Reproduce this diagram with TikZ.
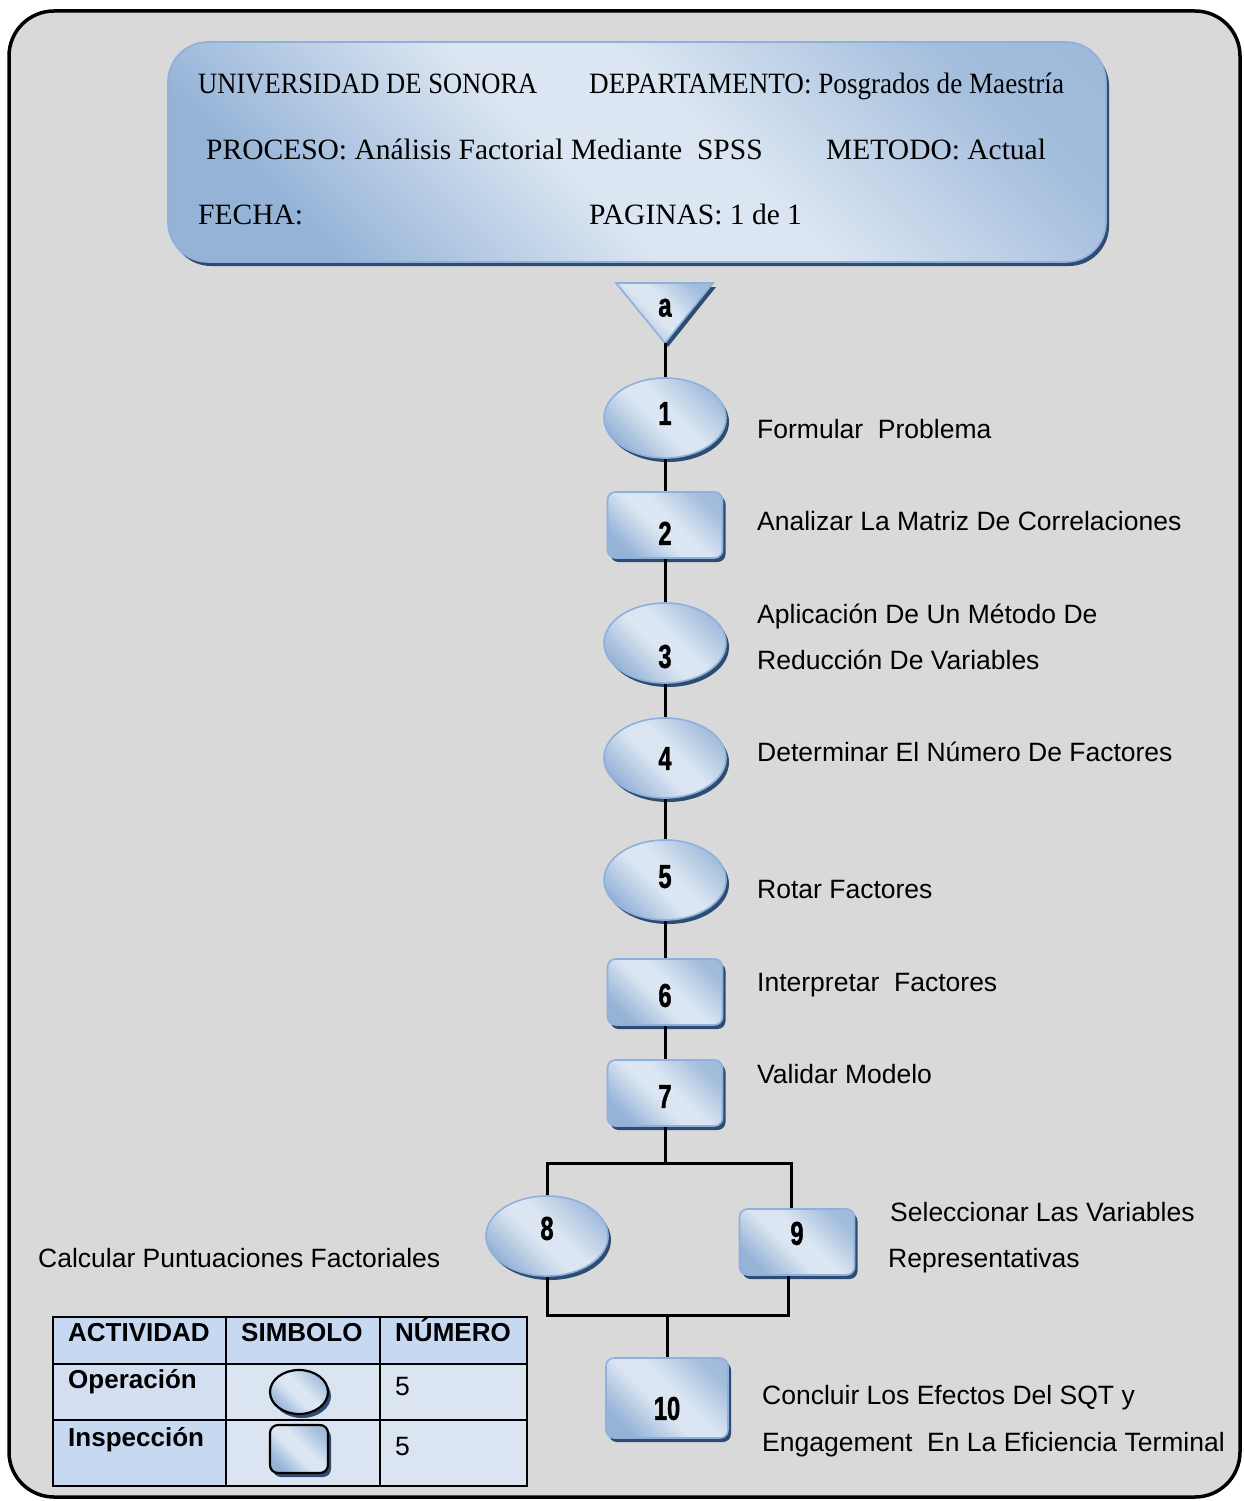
\documentclass[tikz,border=0pt]{standalone}
\usepackage{fontspec}
\usepackage{graphicx}
\setmainfont{Liberation Serif}
\newfontfamily\labfont{Liberation Sans}
\newfontfamily\numfont{Liberation Sans}[UprightFeatures={FakeBold=1.5}, BoldFeatures={FakeBold=1.5}]
\usetikzlibrary{shapes.geometric,shadows}

\definecolor{pagebg}{HTML}{D9D9D9}
\definecolor{boxlight}{HTML}{DCE6F2}
\definecolor{boxdark}{HTML}{95B3D7}
\definecolor{boxedge}{HTML}{8DB0DC}
\definecolor{shadeblue}{HTML}{2E4B72}
\definecolor{tabhead}{HTML}{C6D9F1}
\definecolor{tabmid}{HTML}{D3DFF0}
\definecolor{tabcell}{HTML}{DBE5F1}

\pgfdeclarehorizontalshading{glass}{100bp}{color(0bp)=(boxdark); color(25bp)=(boxdark); color(45bp)=(boxlight); color(55bp)=(boxlight); color(75bp)=(boxdark!80!boxlight); color(100bp)=(boxdark)}

% bold condensed digits inside the flow symbols; #1 = baseline raise
\newcommand\stepnum[2]{\raisebox{#1pt}[0pt][0pt]{\numfont\bfseries\fontsize{33}{33}\selectfont\scalebox{0.72}[1]{#2}}}
% horizontally squeezed header text
\newcommand\hx[2]{\scalebox{#1}[1]{#2}}

\tikzset{
  glassy/.style={shading=glass, shading angle=45, draw=boxedge, line width=1.6pt,
    drop shadow={shadow xshift=3pt, shadow yshift=-4pt, fill=shadeblue, opacity=1}},
  opnode/.style={glassy, ellipse, minimum width=122pt, minimum height=80pt, inner sep=0pt},
  insnode/.style={glassy, rectangle, rounded corners=8pt, minimum width=115pt, minimum height=66pt, inner sep=0pt},
  link/.style={line width=3pt, black},
  headtxt/.style={anchor=base west, inner sep=0pt, font=\fontsize{29.5}{32}\selectfont},
  labtxt/.style={anchor=base west, inner sep=0pt, font=\labfont\fontsize{26.5}{30}\selectfont},
  tabbold/.style={anchor=base west, inner sep=0pt, font=\labfont\bfseries\fontsize{26}{30}\selectfont},
  symb/.style={draw=black, line width=2.2pt, shading=glass, shading angle=45,
    drop shadow={shadow xshift=3pt, shadow yshift=-4pt, fill=shadeblue, opacity=1}},
}

\begin{document}
\begin{tikzpicture}[x=1pt,y=-1pt]
\useasboundingbox (0,0) rectangle (1244,1501);

% page frame
\draw[line width=3.5pt, fill=pagebg, rounded corners=45pt] (9,11) rectangle (1240,1497);

% title block
\node[glassy, rectangle, rounded corners=40pt, minimum width=938pt, minimum height=220pt, inner sep=0pt] (head) at (637,152) {};
\node[headtxt] (h1) at (198,94) {\hx{0.9}{UNIVERSIDAD DE SONORA}};
\node[headtxt] (h2) at (589,94) {\hx{0.92}{DEPARTAMENTO: Posgrados de Maestría}};
\node[headtxt] (h3) at (206,159) {PROCESO: Análisis Factorial Mediante\ \ SPSS};
\node[headtxt] (h4) at (826,159) {METODO: Actual};
\node[headtxt] (h5) at (198,224) {FECHA:};
\node[headtxt] (h6) at (589,224) {PAGINAS: 1 de 1};

% start connector (triangle)
\coordinate (tapex) at (665,343);
\path[glassy] (616,283) -- (713,283) -- (tapex) -- cycle;
\node[inner sep=0pt] (ta) at (665,308) {\stepnum{-8.5}{a}};

% flow steps
\node[opnode]  (n1) at (665,418) {\stepnum{-6.8}{1}};
\node[insnode] (n2) at (665,525) {\stepnum{-19.8}{2}};
\node[opnode]  (n3) at (665,643) {\stepnum{-24.8}{3}};
\node[opnode]  (n4) at (665,758) {\stepnum{-11.8}{4}};
\node[opnode]  (n5) at (665,880) {\stepnum{-7.8}{5}};
\node[insnode] (n6) at (665,992) {\stepnum{-14.8}{6}};
\node[insnode] (n7) at (665,1093) {\stepnum{-14.8}{7}};
\node[opnode]  (n8) at (547,1236) {\stepnum{-3.8}{8}};
\node[insnode] (n9) at (797,1242) {\stepnum{-2.8}{9}};
\node[insnode, minimum width=122pt, minimum height=80pt] (n10) at (667,1398) {\stepnum{-21.8}{10}};

\coordinate (jt) at (665,1163);
\coordinate (jb) at (667,1315);

% connectors
\draw[link] (tapex) -- (n1.north);
\draw[link] (n1.south) -- (n2.north);
\draw[link] (n2.south) -- (n3.north);
\draw[link] (n3.south) -- (n4.north);
\draw[link] (n4.south) -- (n5.north);
\draw[link] (n5.south) -- (n6.north);
\draw[link] (n6.south) -- (n7.north);
\draw[link] (n7.south) -- (jt);
\draw[link] (n8.north) |- (jt) -| ([xshift=-6pt]n9.north);
\draw[link] (n8.south) |- (jb) -| ([xshift=-9pt]n9.south);
\draw[link] (jb) -- (n10.north);

% step descriptions
\node[labtxt] (l1)  at (757,438)  {Formular\ \ Problema};
\node[labtxt] (l2)  at (757,530)  {Analizar La Matriz De Correlaciones};
\node[labtxt] (l3a) at (757,623)  {Aplicación De Un Método De};
\node[labtxt] (l3b) at (757,669)  {Reducción De Variables};
\node[labtxt] (l4)  at (757,761)  {Determinar El Número De Factores};
\node[labtxt] (l5)  at (757,898)  {Rotar Factores};
\node[labtxt] (l6)  at (757,991)  {Interpretar\ \ Factores};
\node[labtxt] (l7)  at (757,1083) {Validar Modelo};
\node[labtxt] (l9a) at (890,1221) {Seleccionar Las Variables};
\node[labtxt] (l9b) at (888,1267) {Representativas};
\node[labtxt] (l8)  at (38,1267)  {Calcular Puntuaciones Factoriales};
\node[labtxt] (l10a) at (762,1404) {Concluir Los Efectos Del SQT y};
\node[labtxt] (l10b) at (762,1451) {Engagement\ \ En La Eficiencia Terminal};

% summary table
\fill[tabhead] (53,1317) rectangle (527,1364);
\fill[tabmid]  (53,1364) rectangle (226,1420);
\fill[tabhead] (53,1420) rectangle (226,1486);
\fill[tabcell] (226,1364) rectangle (527,1486);
\draw[line width=1.3pt] (53,1317) rectangle (527,1486);
\draw[line width=1.3pt] (226,1317) -- (226,1486) (380,1317) -- (380,1486)
  (53,1364) -- (527,1364) (53,1420) -- (527,1420);
\node[tabbold] (t1) at (68,1341)  {ACTIVIDAD};
\node[tabbold] (t2) at (241,1341) {SIMBOLO};
\node[tabbold] (t3) at (395,1341) {NÚMERO};
\node[tabbold] (t4) at (68,1388)  {Operación};
\node[tabbold] (t5) at (68,1446)  {Inspección};
\node[labtxt]  (t6) at (395,1395) {5};
\node[labtxt]  (t7) at (395,1455) {5};
\node[symb, ellipse, minimum width=58pt, minimum height=44pt, inner sep=0pt] (s1) at (299,1392) {};
\node[symb, rectangle, rounded corners=8pt, minimum width=58pt, minimum height=48pt, inner sep=0pt] (s2) at (299,1449) {};
\end{tikzpicture}
\end{document}
